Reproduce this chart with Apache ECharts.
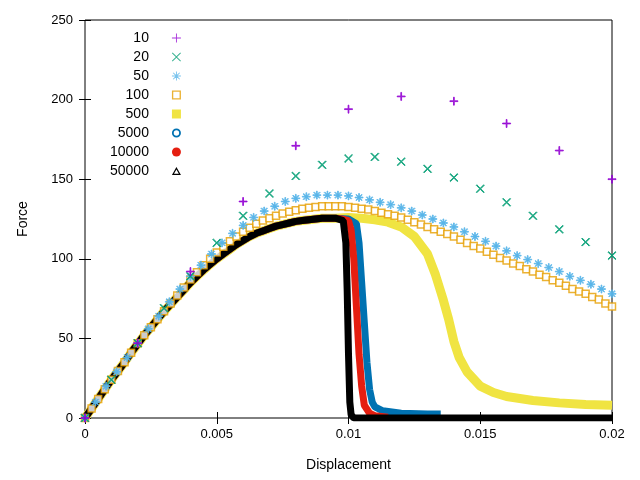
<!DOCTYPE html>
<html><head><meta charset="utf-8">
<script src="https://cdn.jsdelivr.net/npm/echarts@6/dist/echarts.min.js"></script>
<style>html,body{margin:0;padding:0;background:#fff}#c{width:640px;height:480px}</style>
</head><body><div id="c"></div>
<script>
// names
const names = ['10','20','50','100','500','5000','10000','50000'];
// series 10: step 0.002
const x10 = [0,0.002,0.004,0.006,0.008,0.010,0.012,0.014,0.016,0.018,0.020];
const y10 = [0,47,92,136,171,194,202,199,185,168,150];
// series 20: step 0.001
const x20 = [0,0.001,0.002,0.003,0.004,0.005,0.006,0.007,0.008,0.009,0.010,0.011,0.012,0.013,0.014,0.015,0.016,0.017,0.018,0.019,0.020];
const y20 = [0,24,47,69,89,110,127,141,152,159,163,164,161,156.5,151,144,135.5,127,118.5,110.5,102];
// series 50: step 0.0004
const y50 = [0,10,20,29,38,47,56,64,73,81,89,96,103,110,116,121,126,130,133,136,138,139,140,140,140,139.5,138.5,137,135.5,134,132,130,127.5,125,122.5,120,117,114,111,108,105,102,99.5,97,94.5,92,89,86.5,84,81,78];
// series 100: step 0.00025
const y100 = [0,6,12,18,24,29.5,35,41,47,52,57,62,67,72,77,82,87,91.5,96,100,104,107.5,111,114,117,119.5,122,124,125.5,127,128.5,129.5,130.5,131.5,132,132.5,133,133,133,133,132.5,132,131.5,131,130,129,128,127,126,124.5,123,121.5,120,118.5,117,115.5,114,112,110,108,106.5,104.5,102.5,100.5,99,97,95.5,93.5,92,90,88.5,86.5,85,83,81,79.5,78,76,74.5,72,70];
// common rising branch, step 0.00025 from 0 to 0.0095
const yBase = [0,6,12,18,24,29.5,35,41,46.5,52,57,62,67,71.5,76,80.5,85,89,93,96.5,100,103,106,109,111.5,114,116,117.5,119,120.5,121.5,122.5,123.5,124,124.5,125,125.5,125.5,125.5];
// tails after 0.0095
const x500t = [0.010,0.0105,0.011,0.0115,0.012,0.0125,0.013,0.0133,0.0136,0.0138,0.014,0.0142,0.0145,0.015,0.0155,0.016,0.017,0.018,0.019,0.020];
const y500t = [126,125.5,124.5,123,120,114,103,90,74,62,48,38,29,20,16,13.5,11,9.5,8.5,8];
const x5000t = [0.0100,0.0103,0.0104,0.0105,0.0106,0.0107,0.0108,0.0109,0.0110,0.0113,0.0120,0.0130,0.0135];
const y5000t = [125,122,110,85,60,35,18,10,7,4.5,3,2.5,2.5];
const x10000t = [0.00975,0.0100,0.0101,0.0102,0.0103,0.0104,0.0105,0.0106,0.0108,0.0110,0.0115];
const y10000t = [125,124,118,100,70,40,20,8,3,1.5,0.5];
const x50000t = [0.0098,0.0099,0.00995,0.0100,0.01005,0.0101,0.0102,0.0120,0.0150,0.0200];
const y50000t = [124,110,80,40,10,2,0,0,0,0];
const xTicks = [0,0.005,0.01,0.015,0.02];

const pairs = (xs, ys) => xs.map((x,i)=>[x,ys[i]]);
const stepPairs = (step, ys) => ys.map((y,i)=>[+(i*step).toFixed(6),y]);
const base = stepPairs(0.00025, yBase);

const P_PLUS='path://M4.5,0H5.5V4.5H10V5.5H5.5V10H4.5V5.5H0V4.5H4.5Z';
const P_X='path://M0,0.7L0.7,0L5,4.3L9.3,0L10,0.7L5.7,5L10,9.3L9.3,10L5,5.7L0.7,10L0,9.3L4.3,5Z';
const P_AST='path://M4.5,0H5.5V4.5H10V5.5H5.5V10H4.5V5.5H0V4.5H4.5Z M1,1.7L1.7,1L5,4.3L8.3,1L9,1.7L5.7,5L9,8.3L8.3,9L5,5.7L1.7,9L1,8.3L4.3,5Z';
const P_SQ='path://M0,0H10V10H0Z M1.5,1.5V8.5H8.5V1.5Z';
const P_RING='path://M5,0A5,5 0 1,1 4.99,0Z M5,2A3,3 0 1,0 5.01,2Z';
const P_TRI='path://M5,0L10,9H0Z M5,2.8L2.3,7.6H7.7Z';

const cols = ['#9400d3','#009e73','#56b4e9','#e69f00','#f0e442','#0072b2','#e51e10','#000000'];
const sym = [P_PLUS,P_X,P_AST,'rect','rect','emptyCircle','circle','emptyTriangle'];
const legIcon = [P_PLUS,P_X,P_AST,P_SQ,'rect',P_RING,'circle',P_TRI];
const data = [
  pairs(x10,y10), pairs(x20,y20), stepPairs(0.0004,y50), stepPairs(0.00025,y100),
  base.concat(pairs(x500t,y500t)), base.concat(pairs(x5000t,y5000t)),
  base.concat(pairs(x10000t,y10000t)), base.concat(pairs(x50000t,y50000t))
];
const lineW = [0,0,0,0,9,7,7,7];
const order = [4,5,6,7,3,2,1,0];
const series = names.map((n,i)=>({
  name:n, type: lineW[i] ? 'line':'scatter', data:data[i], symbol:sym[i],
  symbolSize: i===3?7:8,
  showSymbol:!lineW[i], animation:false, z: order.indexOf(i)+2,
  lineStyle: lineW[i]?{width:lineW[i],color:cols[i]}:undefined,
  itemStyle: i===3 ? {color:'#fff',borderColor:cols[i],borderWidth:1.5} : {color:cols[i],borderColor:cols[i]},
  emphasis:{disabled:true}
}));

const axisCommon = {axisLine:{show:false}, axisTick:{inside:true,length:6,lineStyle:{color:'#000'}}, splitLine:{show:false}};
const chart = echarts.init(document.getElementById('c'));
chart.setOption({
  backgroundColor:'#fff',
  animation:false,
  grid:{left:85,right:28,top:20,bottom:62,show:true,borderColor:'#000',borderWidth:1,backgroundColor:'transparent'},
  legend:{orient:'vertical',left:105,top:26,itemGap:5,itemWidth:9,itemHeight:9,align:'right',selectedMode:false,
    textStyle:{fontFamily:'Liberation Sans, Arial',fontSize:14,color:'#000',width:48,align:'right',padding:[0,18,0,0]},
    data:names.map((n,i)=>({name:n,icon:legIcon[i],itemStyle:{color:cols[i],borderWidth:0}}))},
  xAxis:[{type:'value',min:0,max:0.02,interval:0.005,name:'Displacement',nameLocation:'middle',nameGap:40,
    nameTextStyle:{fontFamily:'Liberation Sans, Arial',fontSize:14,color:'#000'},
    axisLabel:{color:'#000',fontFamily:'Liberation Sans, Arial',fontSize:13,margin:10,formatter:v=>xTicks.includes(+v.toFixed(3))?String(+v.toFixed(3)):''},
    ...axisCommon},
    {type:'value',position:'top',min:0,max:0.02,interval:0.005,axisLabel:{show:false},...axisCommon}],
  yAxis:[{type:'value',min:0,max:250,interval:50,name:'Force',nameLocation:'middle',nameGap:55,
    nameTextStyle:{fontFamily:'Liberation Sans, Arial',fontSize:14,color:'#000'},
    axisLabel:{color:'#000',fontFamily:'Liberation Sans, Arial',fontSize:13,margin:12},...axisCommon},
    {type:'value',position:'right',min:0,max:250,interval:50,axisLabel:{show:false},...axisCommon}],
  series: series
});
</script></body></html>
